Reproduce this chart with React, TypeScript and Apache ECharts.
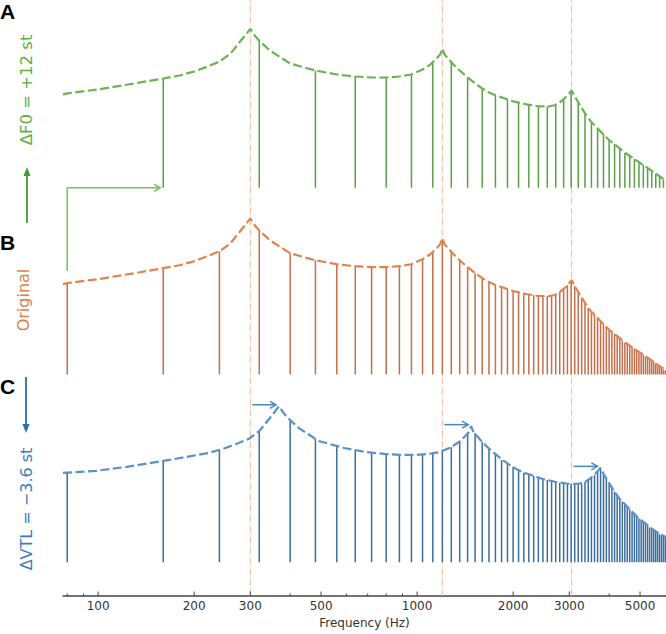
import React, { useEffect, useRef } from "react";
import * as echarts from "echarts";

// ---------- data ----------
const xAxisMinHz = 77.6;
const xAxisMaxHz = 6030;
const majorTicksHz = [100, 200, 300, 500, 1000, 2000, 3000, 5000];
const majorTickLabels = ["100", "200", "300", "500", "1000", "2000", "3000", "5000"];
const minorTicksHz = [80, 90, 400, 600, 700, 800, 900, 4000];

const formantsHz = [300, 1200, 3050];
const shiftedFormantsHz = [369, 1477, 3755];
const shiftedFormantLevel = [157, 137, 95];

// original spectral envelope (level above panel baseline)
const envelopeHz = [77.6, 80, 100, 130, 160, 180, 200, 220, 240, 260, 280, 290, 300, 310, 320, 346, 400, 480, 560, 640, 720, 800, 880, 960, 1040, 1100, 1150, 1180, 1200, 1220, 1260, 1300, 1360, 1440, 1520, 1600, 1680, 1760, 1840, 2000, 2200, 2400, 2600, 2700, 2800, 2900, 2980, 3050, 3120, 3200, 3360, 3500, 3750, 4000, 4500, 5000, 5500, 6030];
const envelopeLevel = [91, 92, 96, 102, 107, 110, 114, 119, 124, 132, 145, 151, 157, 150, 145, 135, 122, 115, 111, 109, 108, 108, 109, 111, 116, 121, 127, 131, 137, 131, 126, 121, 115, 108, 102, 97, 93, 90, 88, 84, 81, 79, 79, 80, 83, 87, 91, 95, 89, 83, 72, 64, 54, 45, 32, 22, 13, 4];

// envelope after the vocal-tract-length shift
const vtlEnvelopeHz = [77.6, 98.5, 123, 160, 197, 222, 246, 271, 296, 320, 345, 357, 369, 382, 394, 426, 492, 591, 689, 788, 886, 985, 1083, 1182, 1280, 1354, 1416, 1453, 1477, 1502, 1551, 1600, 1674, 1773, 1871, 1970, 2068, 2167, 2265, 2462, 2708, 2955, 3201, 3324, 3447, 3570, 3669, 3755, 3841, 3940, 4137, 4309, 4617, 4924, 5540, 6030];
const vtlEnvelopeLevel = [90, 92, 96, 102, 107, 110, 114, 119, 124, 132, 145, 151, 157, 150, 145, 135, 122, 115, 111, 109, 108, 108, 109, 111, 116, 121, 127, 131, 137, 131, 126, 121, 115, 108, 102, 97, 93, 90, 88, 84, 81, 79, 79, 80, 83, 87, 91, 95, 89, 83, 72, 64, 54, 45, 32, 25];

// harmonics of F0 = 80 Hz (panels B and C)
const harmonicsHz = [80, 160, 240, 320, 400, 480, 560, 640, 720, 800, 880, 960, 1040, 1120, 1200, 1280, 1360, 1440, 1520, 1600, 1680, 1760, 1840, 1920, 2000, 2080, 2160, 2240, 2320, 2400, 2480, 2560, 2640, 2720, 2800, 2880, 2960, 3040, 3120, 3200, 3280, 3360, 3440, 3520, 3600, 3680, 3760, 3840, 3920, 4000, 4080, 4160, 4240, 4320, 4400, 4480, 4560, 4640, 4720, 4800, 4880, 4960, 5040, 5120, 5200, 5280, 5360, 5440, 5520, 5600, 5680, 5760, 5840, 5920, 6000];
const originalLevel = [92, 107, 124, 145, 122, 115, 111, 109, 108, 108, 109, 111, 116, 123, 136, 124, 115, 108, 102, 97, 93, 90, 88, 86, 84, 83, 82, 81, 80, 79, 79, 79, 79, 81, 83, 86, 90, 94, 89, 83, 77, 72, 67, 63, 60, 57, 54, 51, 48, 45, 43, 41, 38, 36, 34, 32, 31, 29, 27, 26, 24, 23, 21, 20, 18, 17, 15, 14, 13, 11, 10, 8, 7, 5, 4];
const vtlLevel = [90, 102, 113, 132, 143, 124, 117, 113, 110, 109, 108, 108, 108, 110, 112, 116, 122, 130, 130, 121, 115, 109, 103, 99, 96, 93, 90, 88, 87, 85, 84, 83, 82, 81, 80, 80, 79, 79, 79, 79, 79, 81, 83, 85, 88, 91, 95, 89, 84, 79, 75, 71, 67, 64, 61, 58, 56, 53, 51, 49, 46, 44, 43, 41, 39, 37, 35, 34, 32, 31, 30, 28, 27, 26, 25];

// harmonics of F0 = 160 Hz (panel A)
const f0ShiftedHz = [160, 320, 480, 640, 800, 960, 1120, 1280, 1440, 1600, 1760, 1920, 2080, 2240, 2400, 2560, 2720, 2880, 3040, 3200, 3360, 3520, 3680, 3840, 4000, 4160, 4320, 4480, 4640, 4800, 4960, 5120, 5280, 5440, 5600, 5760, 5920];
const f0ShiftedLevel = [107, 145, 115, 109, 108, 111, 123, 124, 108, 97, 90, 86, 83, 81, 79, 79, 81, 86, 94, 83, 72, 63, 57, 51, 45, 41, 36, 32, 29, 26, 23, 20, 17, 14, 11, 8, 5];

const f0FromHz = 80;
const f0ToHz = 160;

// ---------- layout / style ----------
const PANEL_A = { env: 414, stem: 411 };
const PANEL_B = { env: 223, stem: 223 };
const PANEL_C = { env: 34, stem: 34 };

const GREEN = { env: "#6ab452", stem: "#5a9e48", text: "#5cae4c", arrow: "#78c266", small: "#3d9b3d" };
const ORANGE = { env: "#e0834d", stem: "#c46f4b", text: "#de7f48" };
const BLUE = { env: "#5a92c8", stem: "#3c6d9f", text: "#3b7dc2", arrow: "#4a86c0", small: "#2a6fb0" };
const FORMANT_LINE = "#f2b896";
const FONT = '"DejaVu Sans", sans-serif';

function envelopeSeries(hz: number[], lv: number[], base: number, color: string) {
  return {
    type: "line",
    silent: true,
    z: 5,
    symbol: "none",
    showSymbol: false,
    data: hz.map((f, i) => [f, base + lv[i]]),
    lineStyle: { color, width: 2.2, type: [9, 3.5], cap: "butt" },
  };
}

function stemSeries(hz: number[], lv: number[], envBase: number, stemBase: number, color: string) {
  return {
    type: "custom",
    silent: true,
    clip: false,
    z: 4,
    data: hz.map((f, i) => [f, envBase + lv[i]]),
    encode: { x: 0, y: 1 },
    renderItem: (_p: any, api: any) => {
      const top = api.coord([api.value(0), api.value(1)]);
      const bot = api.coord([api.value(0), stemBase]);
      return {
        type: "line",
        shape: { x1: top[0], y1: top[1], x2: bot[0], y2: bot[1] },
        style: { stroke: color, lineWidth: 1.5 },
      };
    },
  };
}

function chevron(tx: number, ty: number, dx: number, dy: number, color: string) {
  const len = 6, half = 3.5;
  const px = -dy, py = dx;
  return {
    type: "polyline",
    shape: {
      points: [
        [tx - dx * len + px * half, ty - dy * len + py * half],
        [tx, ty],
        [tx - dx * len - px * half, ty - dy * len - py * half],
      ],
    },
    style: { stroke: color, lineWidth: 1.5, fill: null },
  };
}

export default function App() {
  const ref = useRef<HTMLDivElement>(null);

  useEffect(() => {
    if (!ref.current) return;
    const chart = echarts.init(ref.current, undefined, { renderer: "svg" });

    const ticks = [
      ...majorTicksHz.map((f, i) => [f, 0, i]),
      ...minorTicksHz.map((f) => [f, 0, -1]),
    ];

    const option: any = {
      animation: false,
      grid: { left: 63, right: 0, top: 0, bottom: 34, containLabel: false },
      xAxis: {
        type: "log",
        logBase: 10,
        min: xAxisMinHz,
        max: xAxisMaxHz,
        axisLine: { show: true, onZero: false, lineStyle: { color: "#444", width: 1.5 } },
        axisTick: { show: false },
        axisLabel: { show: false },
        splitLine: { show: false },
        minorTick: { show: false },
        name: "Frequency (Hz)",
        nameLocation: "middle",
        nameGap: 21,
        nameTextStyle: { fontFamily: FONT, fontSize: 12, color: "#333" },
      },
      yAxis: { type: "value", min: 0, max: 600, show: false },
      graphic: [
        { type: "text", x: 0, y: 11, style: { text: "A", font: 'bold 21px "Liberation Sans", Arial, sans-serif', fill: "#000", verticalAlign: "middle", textVerticalAlign: "middle" } },
        { type: "text", x: 0, y: 242, style: { text: "B", font: 'bold 21px "Liberation Sans", Arial, sans-serif', fill: "#000", verticalAlign: "middle", textVerticalAlign: "middle" } },
        { type: "text", x: 0, y: 386, style: { text: "C", font: 'bold 21px "Liberation Sans", Arial, sans-serif', fill: "#000", verticalAlign: "middle", textVerticalAlign: "middle" } },
        { type: "text", x: 26, y: 90, rotation: Math.PI / 2, style: { text: "ΔF0 = +12 st", font: "16.5px " + FONT, fill: GREEN.text, align: "center", verticalAlign: "middle", textAlign: "center", textVerticalAlign: "middle" } },
        { type: "text", x: 23.5, y: 300, rotation: Math.PI / 2, style: { text: "Original", font: "16px " + FONT, fill: ORANGE.text, align: "center", verticalAlign: "middle", textAlign: "center", textVerticalAlign: "middle" } },
        { type: "text", x: 26, y: 509, rotation: Math.PI / 2, style: { text: "ΔVTL = −3.6 st", font: "16px " + FONT, fill: BLUE.text, align: "center", verticalAlign: "middle", textAlign: "center", textVerticalAlign: "middle" } },
        { type: "line", shape: { x1: 27, y1: 223, x2: 27, y2: 172 }, style: { stroke: GREEN.small, lineWidth: 1.8 } },
        { type: "polygon", shape: { points: [[27, 167], [23.5, 176], [30.5, 176]] }, style: { fill: GREEN.small } },
        { type: "line", shape: { x1: 26, y1: 377, x2: 26, y2: 428 }, style: { stroke: BLUE.small, lineWidth: 1.8 } },
        { type: "polygon", shape: { points: [[26, 433], [22.5, 424], [29.5, 424]] }, style: { fill: BLUE.small } },
      ],
      series: [
        {
          type: "custom",
          silent: true,
          clip: false,
          z: 1,
          data: formantsHz.map((f) => [f, 0]),
          encode: { x: 0, y: 1 },
          renderItem: (_p: any, api: any) => {
            const a = api.coord([api.value(0), 0]);
            const b = api.coord([api.value(0), 600]);
            return {
              type: "line",
              shape: { x1: a[0], y1: a[1], x2: b[0], y2: b[1] },
              style: { stroke: FORMANT_LINE, lineWidth: 1, lineDash: [6.4, 1.6, 1, 1.6] },
            };
          },
        },
        stemSeries(f0ShiftedHz, f0ShiftedLevel, PANEL_A.env, PANEL_A.stem, GREEN.stem),
        envelopeSeries(envelopeHz, envelopeLevel, PANEL_A.env, GREEN.env),
        stemSeries(harmonicsHz, originalLevel, PANEL_B.env, PANEL_B.stem, ORANGE.stem),
        envelopeSeries(envelopeHz, envelopeLevel, PANEL_B.env, ORANGE.env),
        stemSeries(harmonicsHz, vtlLevel, PANEL_C.env, PANEL_C.stem, BLUE.stem),
        envelopeSeries(vtlEnvelopeHz, vtlEnvelopeLevel, PANEL_C.env, BLUE.env),
        {
          type: "custom",
          silent: true,
          clip: false,
          z: 6,
          data: formantsHz.map((f, i) => [f, shiftedFormantsHz[i], PANEL_C.env + shiftedFormantLevel[i]]),
          encode: { x: [0, 1], y: 2 },
          renderItem: (_p: any, api: any) => {
            const a = api.coord([api.value(0), api.value(2)]);
            const b = api.coord([api.value(1), api.value(2)]);
            const y = a[1] - 1.5;
            const x1 = a[0] + 2;
            const x2 = b[0] - 3;
            return {
              type: "group",
              children: [
                { type: "line", shape: { x1, y1: y, x2, y2: y }, style: { stroke: BLUE.arrow, lineWidth: 1.5 } },
                chevron(x2, y, 1, 0, BLUE.arrow),
              ],
            };
          },
        },
        {
          type: "custom",
          silent: true,
          clip: false,
          z: 6,
          data: [[f0FromHz, PANEL_B.env + envelopeLevel[1], f0ToHz]],
          encode: { x: 0, y: 1 },
          renderItem: (_p: any, api: any) => {
            const start = api.coord([api.value(0), api.value(1)]);
            const corner = api.coord([api.value(0), PANEL_A.stem]);
            const end = api.coord([api.value(2), PANEL_A.stem]);
            const ex = end[0] - 3;
            return {
              type: "group",
              children: [
                {
                  type: "polyline",
                  shape: { points: [[start[0], start[1] - 12], [corner[0], corner[1]], [ex, end[1]]] },
                  style: { stroke: GREEN.arrow, lineWidth: 1.5, fill: null },
                },
                chevron(ex, end[1], 1, 0, GREEN.arrow),
              ],
            };
          },
        },
        {
          type: "custom",
          silent: true,
          clip: false,
          z: 7,
          data: ticks,
          encode: { x: 0, y: 1 },
          renderItem: (_p: any, api: any) => {
            const p = api.coord([api.value(0), 0]);
            const idx = api.value(2);
            const major = idx >= 0;
            const children: any[] = [
              { type: "line", shape: { x1: p[0], y1: p[1], x2: p[0], y2: p[1] - (major ? 4.5 : 2.5) }, style: { stroke: "#444", lineWidth: 1 } },
            ];
            if (major) {
              children.push({
                type: "text",
                x: p[0],
                y: p[1] + 4,
                style: { text: majorTickLabels[idx], font: "12px " + FONT, fill: "#333", align: "center", verticalAlign: "top" },
              });
            }
            return { type: "group", children };
          },
        },
      ],
    };

    chart.setOption(option);
    return () => chart.dispose();
  }, []);

  return <div ref={ref} style={{ position: "fixed", left: 0, top: 0, width: 666, height: 634, background: "#fff" }} />;
}
